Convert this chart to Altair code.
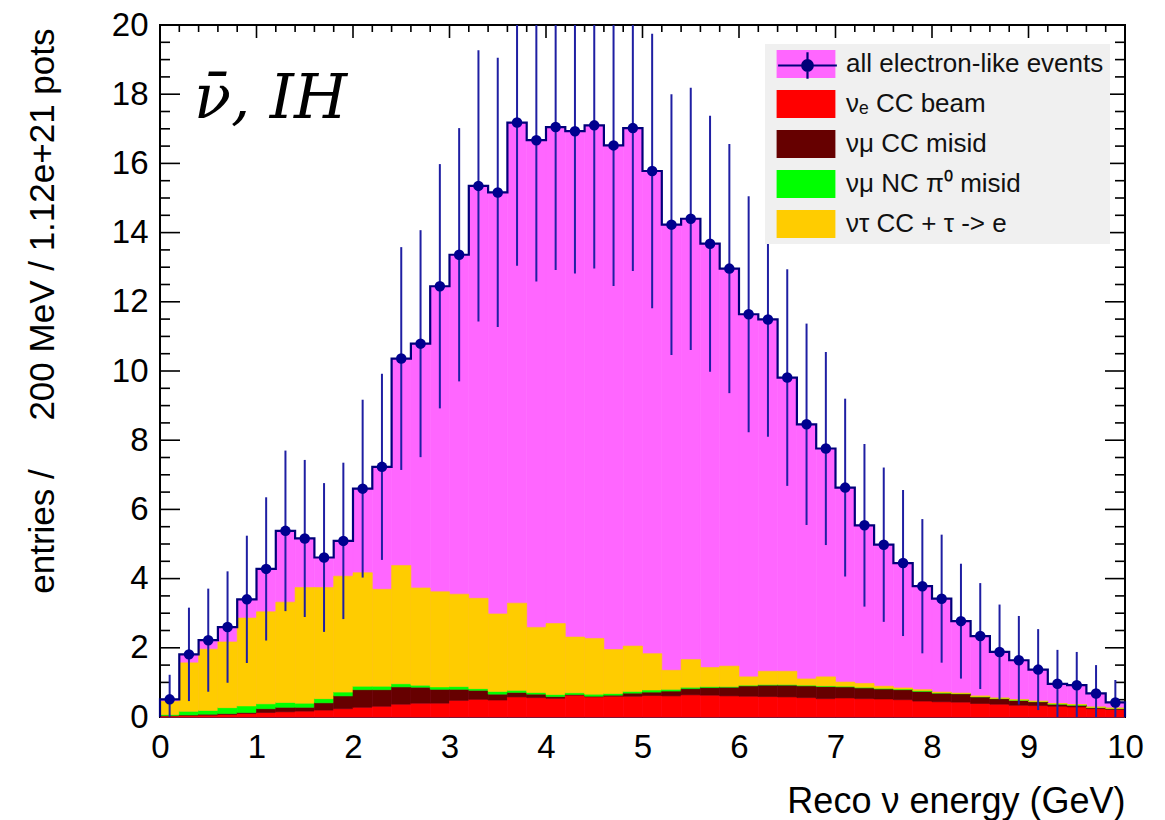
import altair as alt
import pandas as pd

# ---------------- data ----------------
n_bins = 50
bin_width = 0.2
bin_lo = [round(i * bin_width, 1) for i in range(n_bins)]
bin_hi = [round((i + 1) * bin_width, 1) for i in range(n_bins)]

total = [0.51, 1.81, 2.22, 2.60, 3.40, 4.28, 5.38, 5.16, 4.61, 5.09,
         6.60, 7.23, 10.36, 10.79, 12.45, 13.36, 15.35, 15.16, 17.18, 16.67,
         17.05, 16.93, 17.10, 16.52, 17.02, 15.78, 14.23, 14.40, 13.68, 12.96,
         11.64, 11.49, 9.81, 8.46, 7.76, 6.63, 5.54, 4.98, 4.45, 3.78,
         3.42, 2.77, 2.34, 1.88, 1.64, 1.37, 0.96, 0.92, 0.68, 0.42]

err = [0.71, 1.35, 1.49, 1.61, 1.84, 2.07, 2.32, 2.27, 2.15, 2.26,
       2.57, 2.69, 3.22, 3.28, 3.53, 3.66, 3.92, 3.89, 4.14, 4.08,
       4.13, 4.11, 4.14, 4.06, 4.13, 3.97, 3.77, 3.79, 3.70, 3.60,
       3.41, 3.39, 3.13, 2.91, 2.79, 2.57, 2.35, 2.23, 2.11, 1.94,
       1.85, 1.66, 1.53, 1.37, 1.28, 1.17, 0.98, 0.96, 0.82, 0.65]

nue_beam = [0.03, 0.04, 0.05, 0.07, 0.10, 0.13, 0.15, 0.17, 0.20, 0.24,
            0.28, 0.31, 0.37, 0.40, 0.40, 0.48, 0.51, 0.49, 0.58, 0.56,
            0.54, 0.63, 0.58, 0.60, 0.60, 0.62, 0.61, 0.64, 0.63, 0.61,
            0.60, 0.59, 0.58, 0.56, 0.53, 0.55, 0.53, 0.52, 0.50, 0.46,
            0.44, 0.43, 0.39, 0.37, 0.34, 0.33, 0.31, 0.29, 0.24, 0.22]

numu_cc = [0.01, 0.02, 0.03, 0.03, 0.03, 0.11, 0.13, 0.11, 0.21, 0.37,
           0.51, 0.48, 0.50, 0.46, 0.40, 0.32, 0.26, 0.17, 0.13, 0.10,
           0.05, 0.02, 0.02, 0.03, 0.09, 0.10, 0.14, 0.18, 0.22, 0.25,
           0.30, 0.33, 0.34, 0.34, 0.35, 0.32, 0.31, 0.29, 0.29, 0.28,
           0.25, 0.24, 0.19, 0.16, 0.14, 0.11, 0.06, 0.05, 0.03, 0.02]

numu_nc = [0.03, 0.105, 0.11, 0.17, 0.19, 0.14, 0.14, 0.12, 0.12, 0.11,
           0.10, 0.10, 0.09, 0.06, 0.07, 0.08, 0.05, 0.08, 0.06, 0.05,
           0.06, 0.05, 0.06, 0.05, 0.05, 0.06, 0.05, 0.04, 0.03, 0.02,
           0.02, 0.02, 0.02, 0.02, 0.02, 0.02, 0.02, 0.02, 0.02, 0.02,
           0.01, 0.01, 0.01, 0.01, 0.01, 0.01, 0.01, 0.01, 0.01, 0.01]

nutau = [0.38, 1.40, 1.77, 1.90, 2.54, 2.66, 2.90, 3.34, 3.21, 3.35,
         3.28, 2.80, 3.42, 2.81, 2.75, 2.67, 2.61, 2.24, 2.52, 1.88,
         2.05, 1.61, 1.61, 1.27, 1.31, 1.05, 0.55, 0.80, 0.55, 0.59,
         0.24, 0.38, 0.38, 0.18, 0.26, 0.12, 0.11, 0.06, 0.03, 0.03,
         0.02, 0.01, 0.02, 0.01, 0.01, 0.01, 0.01, 0.01, 0.01, 0.01]

labels = ["all electron-like events", "νₑ CC beam", "νμ CC misid",
          "νμ NC π⁰ misid", "ντ CC + τ -> e"]
colors = ["#ff66ff", "#ff0000", "#660000", "#00ff00", "#ffcc00"]

x_major = list(range(0, 11))
x_minor = [round(0.2 * i, 1) for i in range(51) if i % 5 != 0]
y_major = list(range(0, 21, 2))
y_minor = [0.5 * i for i in range(41) if i % 4 != 0]

# ---------------- tables ----------------
df = pd.DataFrame({
    "lo": bin_lo, "hi": bin_hi,
    "center": [(a + b) / 2 for a, b in zip(bin_lo, bin_hi)],
    "total": total, "err": err,
    "nue": nue_beam, "numucc": numu_cc, "numunc": numu_nc, "nutau": nutau,
})

outline = pd.DataFrame({
    "x": [0.0] + bin_lo + [10.0, 10.0],
    "y": [0.0] + total + [total[-1], 0.0],
})
outline["idx"] = range(len(outline))

W, H = 965, 692
xs = alt.Scale(domain=[0, 10], nice=False, zero=False)
ys = alt.Scale(domain=[0, 20], nice=False)
cscale = alt.Scale(domain=labels, range=colors)

LEG_X, LEG_Y = 605, 19
legend_common = dict(
    title=None, orient="none", legendX=LEG_X, legendY=LEG_Y,
    padding=6, rowPadding=12, symbolSize=784,
    symbolOffset=21, labelOffset=26,
    labelFont="Liberation Sans", labelFontSize=26,
    labelLimit=500,
)
legend = alt.Legend(
    fillColor="#f0f0f0", symbolType="M-2.1,-1H2.1V1H-2.1Z",
    symbolStrokeWidth=0, labelColor="#111111", **legend_common,
)


def ring(r):
    return f"M-{r},0A{r},{r} 0 1 0 {r},0A{r},{r} 0 1 0 -{r},0Z"


# horizontal + vertical bar and a solid dot built from concentric rings
MARKER_PATH = "M-2.1,0H2.1M0,-0.95V0.95" + "".join(
    ring(r) for r in (0.38, 0.3, 0.22, 0.14, 0.06))

# overlay legend that draws the marker + error bar on the first entry
marker_legend = alt.Legend(
    symbolType=MARKER_PATH,
    symbolStrokeWidth=2.2, symbolStrokeColor="#00007a",
    symbolOpacity=1, labelExpr="''", labelColor="#111111", **legend_common,
)

xaxis = alt.Axis(values=x_major, format="d", labelFlush=False,
                 labelPadding=14, labelFontSize=33,
                 title="Reco ν energy (GeV)", titleX=W, titleY=84,
                 titleAlign="right", titleBaseline="middle", titleFontSize=36)
yaxis = alt.Axis(values=y_major, format="d", labelPadding=12, labelFontSize=33,
                 title="entries /\u00a0\u00a0\u00a0\u00a0\u00a0200 MeV / 1.12e+21 pots",
                 titleAngle=270, titleX=-118, titleY=3, titleAlign="right",
                 titleBaseline="middle", titleFontSize=35)

base = alt.Chart(df)

# magenta "all events" histogram
magenta = base.mark_bar(strokeWidth=0.6).transform_calculate(
    label="'all electron-like events'"
).encode(
    x=alt.X("lo:Q", scale=xs, axis=xaxis),
    x2="hi:Q",
    y=alt.Y("total:Q", scale=ys, axis=yaxis),
    y2=alt.datum(0),
    color=alt.Color("label:N", scale=cscale, legend=legend),
    stroke=alt.Stroke("label:N", scale=cscale, legend=None),
)

# stacked backgrounds
stacked = base.transform_fold(
    ["nue", "numucc", "numunc", "nutau"], as_=["key", "val"]
).transform_calculate(
    ord="indexof(['nue','numucc','numunc','nutau'], datum.key)",
    label="['νₑ CC beam','νμ CC misid','νμ NC π⁰ misid','ντ CC + τ -> e'][indexof(['nue','numucc','numunc','nutau'], datum.key)]",
).transform_stack(
    stack="val", groupby=["lo"], as_=["s0", "s1"],
    sort=[alt.SortField("ord", order="ascending")],
).mark_bar(strokeWidth=0.6).encode(
    x=alt.X("lo:Q", scale=xs), x2="hi:Q",
    y=alt.Y("s0:Q", scale=ys), y2="s1:Q",
    color=alt.Color("label:N", scale=cscale, legend=legend),
    stroke=alt.Stroke("label:N", scale=cscale, legend=None),
)

step = alt.Chart(outline).mark_line(
    interpolate="step-after", color="#00007a", strokeWidth=2.2
).encode(
    x=alt.X("x:Q", scale=xs), y=alt.Y("y:Q", scale=ys), order="idx:Q"
)

errbars = base.transform_calculate(
    elo="datum.total - datum.err", ehi="datum.total + datum.err"
).mark_rule(color="#1f1fa3", strokeWidth=2, clip=True).encode(
    x=alt.X("center:Q", scale=xs), y=alt.Y("elo:Q", scale=ys), y2="ehi:Q"
)

points = base.mark_circle(color="#00008f", opacity=1, size=110).encode(
    x=alt.X("center:Q", scale=xs), y=alt.Y("total:Q", scale=ys)
)

# invisible layer that only provides the marker legend entry
marker_key = base.transform_filter("datum.lo == 0").transform_calculate(
    label="'all electron-like events'"
).mark_point(opacity=0, color="#00007a").encode(
    x=alt.X("center:Q", scale=xs), y=alt.Y("total:Q", scale=ys),
    shape=alt.Shape("label:N", scale=alt.Scale(
        domain=["all electron-like events"], range=[MARKER_PATH]),
        legend=marker_legend),
)

def xticks(vals, length):
    d = alt.Chart(pd.DataFrame({"v": vals}))
    top = d.mark_rule(color="black", strokeWidth=1.6).encode(
        x=alt.X("v:Q", scale=xs), y=alt.value(0), y2=alt.value(length))
    bot = d.mark_rule(color="black", strokeWidth=1.6).encode(
        x=alt.X("v:Q", scale=xs), y=alt.value(H), y2=alt.value(H - length))
    return [top, bot]

def yticks(vals, length):
    d = alt.Chart(pd.DataFrame({"v": vals}))
    left = d.mark_rule(color="black", strokeWidth=1.6).encode(
        y=alt.Y("v:Q", scale=ys), x=alt.value(0), x2=alt.value(length))
    right = d.mark_rule(color="black", strokeWidth=1.6).encode(
        y=alt.Y("v:Q", scale=ys), x=alt.value(W), x2=alt.value(W - length))
    return [left, right]

ticks = xticks(x_major, 13) + xticks(x_minor, 7) + yticks(y_major, 20) + yticks(y_minor, 10)

title_txt = alt.Chart(pd.DataFrame({"t": ["ν\u0304, IH"]})).mark_text(
    font="DejaVu Serif", fontStyle="italic", fontSize=61,
    align="left", baseline="alphabetic", color="black"
).encode(x=alt.value(34), y=alt.value(93), text="t:N")

chart = alt.layer(
    *ticks, magenta, stacked, step, errbars, points, marker_key, title_txt
).properties(
    width=W, height=H,
    padding={"left": 160, "top": 25, "right": 40, "bottom": 103},
    autosize=alt.AutoSizeParams(type="none"),
).configure_view(
    stroke="black", strokeWidth=2
).configure_axis(
    domain=False, ticks=False, tickSize=0, grid=False,
    labelFont="Liberation Sans", labelColor="black",
    titleFont="Liberation Sans", titleFontWeight="normal", titleColor="black",
)

chart.save("out.html", embed_options={"renderer": "svg", "actions": False})
